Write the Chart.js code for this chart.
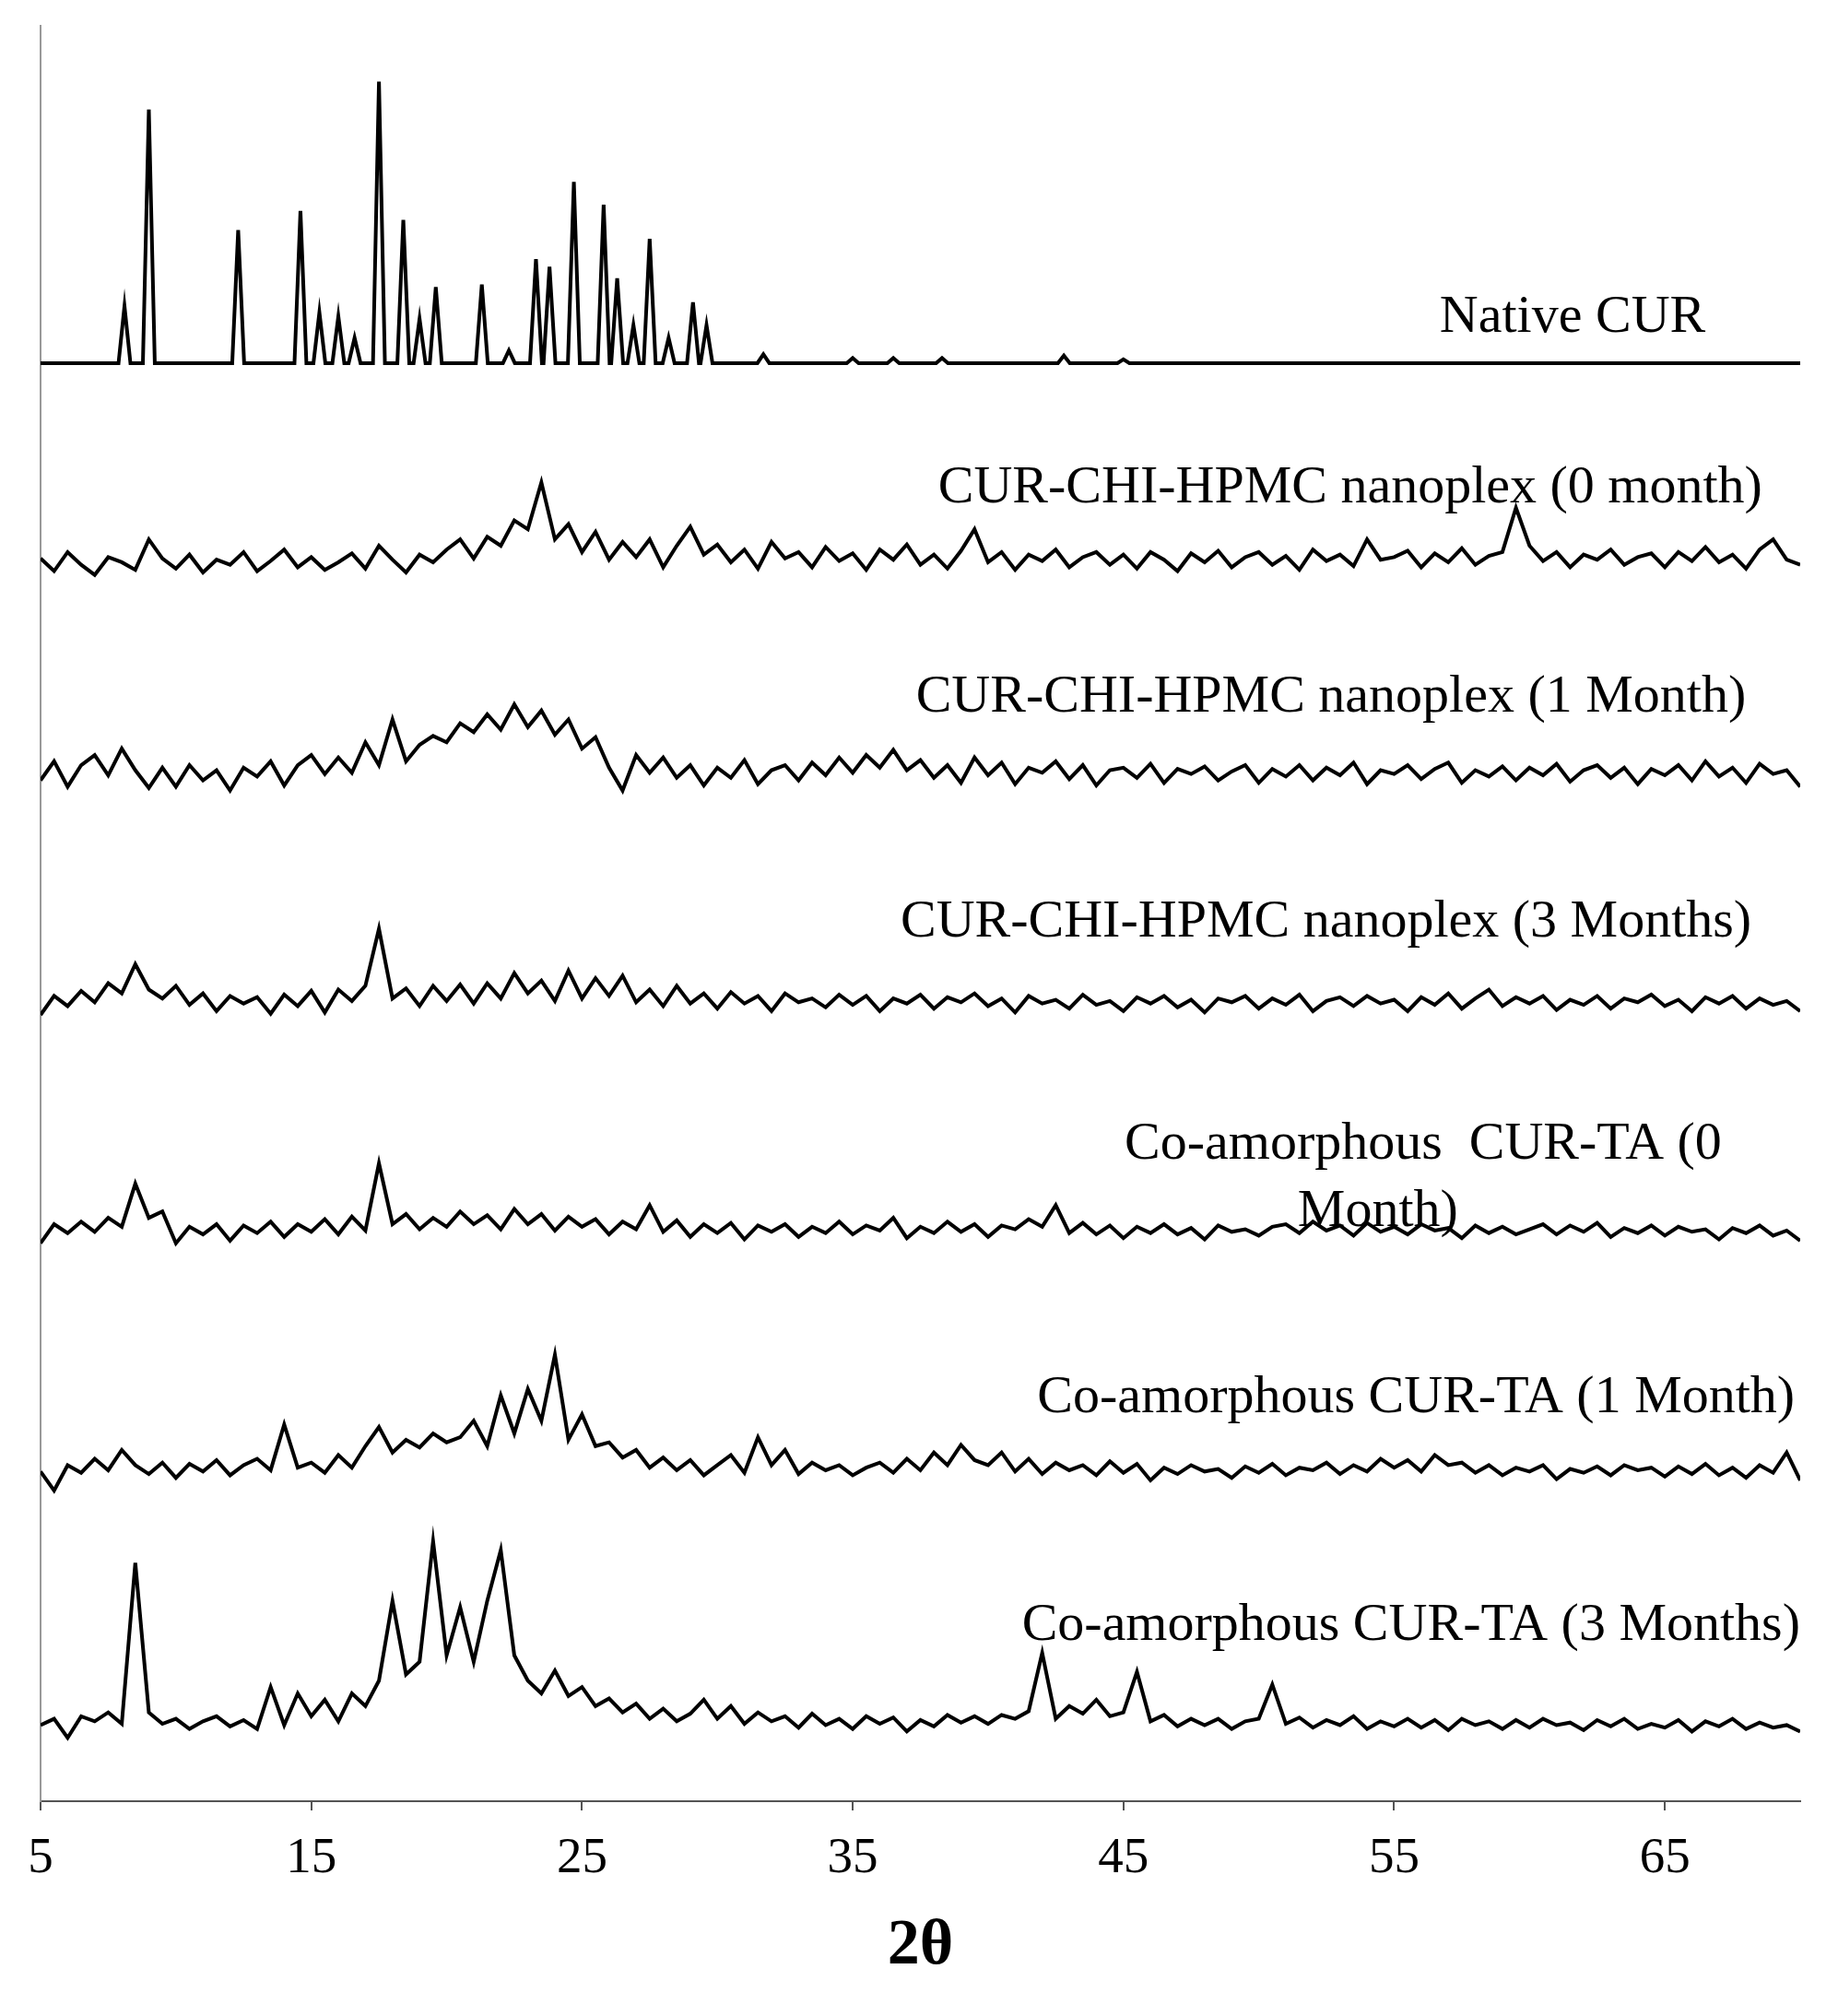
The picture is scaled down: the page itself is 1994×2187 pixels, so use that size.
<!DOCTYPE html>
<html>
<head>
<meta charset="utf-8">
<script src="https://cdn.jsdelivr.net/npm/chart.js@4"></script>
<style>
  body { margin: 0; background: #fff; }
  #wrap { width: 1994px; height: 2187px; }
</style>
</head>
<body>
<div id="wrap"><canvas id="xrd"></canvas></div>
<script>
// 2-theta grid for the noisy traces (0.5 deg steps, 5..70)
const xStart = 5, xStep = 0.5;
const xTicks = [5, 15, 25, 35, 45, 55, 65];

// vertical offset of each trace
const offsets = [113.4, 97.5, 80.5, 62.5, 44.5, 25.5, 5.5];

const labels = [
  ["Native CUR"],
  ["CUR-CHI-HPMC nanoplex (0 month)"],
  ["CUR-CHI-HPMC nanoplex (1 Month)"],
  ["CUR-CHI-HPMC nanoplex (3 Months)"],
  ["Co-amorphous  CUR-TA (0", "Month)"],
  ["Co-amorphous CUR-TA (1 Month)"],
  ["Co-amorphous CUR-TA (3 Months)"]
];
// label anchor points [x, y] in data units (right aligned, second line centered)
const labelPos = [
  [[66.5, 117]],
  [[68.6, 103.5]],
  [[68.0, 87]],
  [[68.2, 69.3]],
  [[67.1, 51.8], [54.4, 46.5]],
  [[69.8, 31.8]],
  [[70.0, 13.8]]
];

// native curcumin: peak positions and heights
const curPeakX = [8.1, 9.0, 12.3, 14.6, 15.3, 16.0, 16.6, 17.5, 18.4, 19.0, 19.6, 21.3, 22.3, 23.3, 23.8, 24.7, 25.8, 26.3, 26.9, 27.5, 28.2, 29.1, 29.6, 31.7, 35.0, 36.5, 38.3, 42.8, 45.0];
const curPeakY = [4.5, 20, 10.5, 12, 4, 3.7, 2, 22.2, 11.3, 3.5, 6, 6.2, 1, 8.2, 7.6, 14.3, 12.5, 6.7, 3, 9.8, 2, 4.8, 3, 0.7, 0.4, 0.4, 0.4, 0.6, 0.3];

const nano0 = [
  0.5,-0.5,1,0,-0.8,0.6,0.2,-0.4,2,0.5,
  -0.3,0.8,-0.6,0.4,0,1,-0.5,0.3,1.2,-0.2,
  0.6,-0.4,0.2,0.9,-0.3,1.5,0.4,-0.6,0.8,0.2,
  1.2,2,0.5,2.2,1.5,3.5,2.8,6.5,2,3.2,
  1,2.6,0.4,1.8,0.6,2,-0.2,1.5,3,0.8,
  1.6,0.2,1.2,-0.3,1.8,0.5,1,-0.2,1.4,0.3,
  0.9,-0.4,1.2,0.4,1.6,0,0.8,-0.3,1.1,2.8,
  0.2,1,-0.4,0.8,0.3,1.2,-0.2,0.6,1,0,
  0.8,-0.3,1,0.4,-0.5,0.9,0.2,1.1,-0.2,0.6,
  1,0,0.7,-0.4,1.2,0.3,0.8,-0.1,2,0.4,
  0.6,1.1,-0.2,0.9,0.2,1.3,0,0.7,1,4.5,
  1.5,0.3,1,-0.2,0.8,0.4,1.2,0,0.6,0.9,
  -0.2,1,0.3,1.4,0.2,0.8,-0.3,1.2,2,0.4,
  0
];
const nano1 = [
  0,1.5,-0.5,1.2,2,0.4,2.5,0.8,-0.6,1,
  -0.5,1.2,0,0.8,-0.8,1,0.3,1.5,-0.4,1.2,
  2,0.5,1.8,0.6,3,1.2,4.8,1.5,2.8,3.5,
  3,4.5,3.8,5.2,4,6,4.2,5.5,3.6,4.8,
  2.5,3.4,1,-0.8,2,0.6,1.8,0.2,1.2,-0.4,
  1,0.2,1.6,-0.3,0.8,1.2,0,1.4,0.4,1.8,
  0.6,2,1,2.4,0.8,1.6,0.2,1.2,-0.2,1.8,
  0.4,1.4,-0.3,1,0.6,1.5,0.1,1.2,-0.4,0.8,
  1,0.2,1.3,-0.2,0.9,0.5,1.1,0,0.7,1.2,
  -0.2,0.9,0.3,1.2,0,1,0.4,1.4,-0.3,0.8,
  0.5,1.2,0.1,0.9,1.4,-0.2,0.8,0.3,1.1,0,
  1,0.4,1.3,-0.1,0.8,1.2,0.2,1,-0.3,0.9,
  0.4,1.2,0,1.5,0.3,1,-0.2,1.3,0.5,0.8,
  -0.5
];
const nano3 = [
  -0.5,1,0.2,1.4,0.5,2,1.2,3.5,1.5,0.8,
  1.8,0.3,1.2,-0.2,1,0.4,0.9,-0.4,1.1,0.2,
  1.4,-0.3,1.5,0.6,1.8,6.3,0.8,1.6,0.2,1.8,
  0.6,1.9,0.4,2,0.8,2.8,1.2,2.2,0.6,3,
  0.8,2.4,1,2.6,0.5,1.5,0.2,1.8,0.4,1.2,
  0,1.3,0.4,1,-0.2,1.2,0.5,0.8,0.1,1.1,
  0.3,1,-0.2,0.8,0.4,1.1,0,0.9,0.5,1.2,
  0.2,0.8,-0.3,1,0.4,0.7,0,1.1,0.3,0.6,
  -0.2,0.9,0.4,1,0.1,0.7,-0.3,0.8,0.5,1,
  0,0.8,0.3,1.1,-0.2,0.6,0.9,0.2,1,0.4,
  0.7,-0.2,0.9,0.3,1.2,0,0.8,1.5,0.2,0.9,
  0.4,1,-0.1,0.7,0.3,1,0,0.8,0.5,1.1,
  0.2,0.7,-0.2,0.9,0.4,1,0,0.8,0.3,0.6,
  -0.2
];
const ta0 = [
  -0.5,1,0.3,1.2,0.4,1.5,0.8,4.2,1.5,2,
  -0.5,0.8,0.2,1,-0.3,0.9,0.3,1.2,0,1,
  0.4,1.4,0.2,1.6,0.5,5.8,1,1.8,0.6,1.5,
  0.8,2,1,1.7,0.6,2.2,1,1.8,0.5,1.6,
  0.8,1.4,0.2,1.2,0.6,2.5,0.4,1.3,0,1,
  0.3,1.1,-0.2,0.9,0.4,1,0,0.8,0.3,1.2,
  0.2,0.9,0.5,1.5,-0.1,0.8,0.3,1.2,0.4,1,
  0,0.9,0.6,1.4,0.8,2.5,0.3,1.1,0.2,0.9,
  -0.1,0.8,0.3,1,0.2,0.7,-0.2,0.9,0.4,0.6,
  0.1,0.8,1,0.3,1.2,0.5,0.9,0.1,1.1,0.4,
  0.8,0.2,1,0.5,0.7,-0.1,0.9,0.3,0.8,0.2,
  0.6,1,0.2,0.9,0.4,1.1,0,0.7,0.3,0.9,
  0.1,0.8,0.4,0.6,-0.2,0.7,0.3,0.9,0.1,0.5,
  -0.3
];
const ta1 = [
  0.5,-1,1,0.4,1.5,0.6,2.2,1,0.3,1.2,
  0,1.1,0.5,1.4,0.2,1,1.5,0.6,4.2,0.8,
  1.2,0.4,1.8,0.8,2.5,4,2,3,2.4,3.5,
  2.8,3.2,4.5,2.5,6.5,3.5,7,4.5,9.7,3,
  5,2.5,2.8,1.6,2.2,0.8,1.6,0.6,1.4,0.2,
  1,1.8,0.4,3.2,1,2.2,0.3,1.2,0.6,1,
  0.2,0.8,1.2,0.4,1.5,0.6,2,1,2.6,1.4,
  1,2,0.5,1.5,0.3,1.2,0.6,1,0.2,1.3,
  0.4,1.1,-0.2,0.8,0.3,1,0.5,0.7,0,0.9,
  0.4,1.1,0.2,0.8,0.6,1.2,0.3,1,0.5,1.5,
  0.8,1.4,0.5,1.8,1,1.2,0.4,1,0.2,0.8,
  0.5,1,-0.1,0.7,0.4,0.9,0.2,1,0.6,0.8,
  0.1,0.9,0.3,1.1,0.2,0.8,0,1,0.4,2,
  -0.2
];
const ta3 = [
  0.5,1,-0.5,1.2,0.8,1.5,0.6,13.3,1.5,0.6,
  1,0.2,0.8,1.2,0.4,0.9,0.2,3.5,0.5,3,
  1.2,2.5,0.8,3,2,4,10.3,4.5,5.5,15,
  6,9.8,5.5,10.3,14.3,6,4,3,4.8,2.8,
  3.5,2,2.6,1.5,2.2,1,1.8,0.8,1.4,2.5,
  1,2,0.6,1.5,0.8,1.2,0.3,1.4,0.5,1,
  0.2,1.2,0.6,1.1,0,0.9,0.4,1.3,0.7,1.2,
  0.6,1.3,1,1.6,6.2,1,2,1.4,2.5,1.2,
  1.5,4.7,0.8,1.3,0.4,1,0.5,1,0.2,0.8,
  1,3.7,0.6,1.1,0.3,0.9,0.5,1.2,0.2,0.8,
  0.4,1,0.3,0.9,0.1,1,0.5,0.8,0.2,0.9,
  0.3,1,0.5,0.7,0.1,0.9,0.4,1,0.2,0.6,
  0.3,0.9,0,0.8,0.4,1,0.2,0.7,0.3,0.5,
  0
];

// build native trace: flat baseline with narrow triangular peaks
function peakTrace(px, py, off) {
  const pts = [{x: 5, y: off}];
  px.forEach((x, i) => {
    pts.push({x: x - 0.22, y: off});
    pts.push({x: x, y: off + py[i]});
    pts.push({x: x + 0.22, y: off});
  });
  pts.push({x: 70, y: off});
  return pts;
}
function gridTrace(vals, off) {
  return vals.map((v, i) => ({x: xStart + i * xStep, y: off + v}));
}

const traces = [
  peakTrace(curPeakX, curPeakY, offsets[0]),
  gridTrace(nano0, offsets[1]),
  gridTrace(nano1, offsets[2]),
  gridTrace(nano3, offsets[3]),
  gridTrace(ta0, offsets[4]),
  gridTrace(ta1, offsets[5]),
  gridTrace(ta3, offsets[6])
];

const serif = "'Liberation Serif', 'DejaVu Serif', serif";

const labelPlugin = {
  id: 'traceLabels',
  afterDatasetsDraw(chart) {
    const ctx = chart.ctx, xs = chart.scales.x, ys = chart.scales.y;
    ctx.save();
    ctx.fillStyle = '#000';
    ctx.font = '58px ' + serif;
    ctx.textBaseline = 'middle';
    labels.forEach((lines, i) => {
      lines.forEach((t, j) => {
        const p = labelPos[i][j];
        ctx.textAlign = j === 0 ? 'right' : 'center';
        ctx.fillText(t, xs.getPixelForValue(p[0]), ys.getPixelForValue(p[1]));
      });
    });
    ctx.restore();
  }
};

new Chart(document.getElementById('xrd'), {
  type: 'line',
  data: {
    datasets: traces.map((d, i) => ({
      label: labels[i].join(' '),
      data: d,
      borderColor: '#000',
      borderWidth: 4,
      pointRadius: 0,
      tension: 0
    }))
  },
  options: {
    responsive: true,
    maintainAspectRatio: false,
    devicePixelRatio: 1,
    animation: false,
    layout: { padding: { left: 36, right: 41, top: 28, bottom: 29 } },
    plugins: { legend: { display: false }, tooltip: { enabled: false } },
    scales: {
      x: {
        type: 'linear', min: 5, max: 70,
        afterBuildTicks: s => { s.ticks = xTicks.map(v => ({value: v})); },
        grid: { drawOnChartArea: false, drawTicks: true, tickLength: 10, color: '#555', lineWidth: 2 },
        border: { color: '#555', width: 2 },
        ticks: { color: '#000', font: { family: serif, size: 55 }, padding: 20, maxRotation: 0 },
        title: { display: true, text: '2θ', color: '#000', font: { family: serif, size: 70, weight: 'bold' }, padding: { top: 0 } }
      },
      y: {
        min: 0, max: 140,
        grid: { display: false },
        border: { color: '#999', width: 2 },
        ticks: { display: false }
      }
    }
  },
  plugins: [labelPlugin]
});
</script>
</body>
</html>
